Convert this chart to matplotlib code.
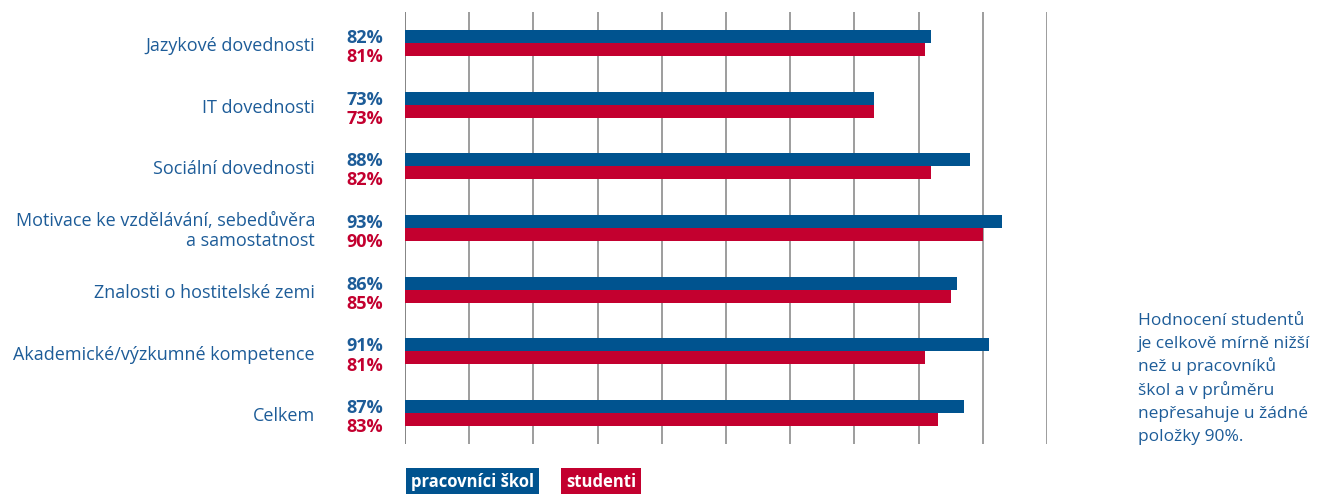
import matplotlib.pyplot as plt
import numpy as np

# chart data
categories = ["Jazykové dovednosti", "IT dovednosti", "Sociální dovednosti",
              "Motivace ke vzdělávání, sebedůvěra\na samostatnost",
              "Znalosti o hostitelské zemi", "Akademické/výzkumné kompetence", "Celkem"]
staff = [82, 73, 88, 93, 86, 91, 87]
students = [81, 73, 82, 90, 85, 81, 83]
legend_labels = ["pracovníci škol", "studenti"]
note_lines = ["Hodnocení studentů", "je celkově mírně nižší", "než u pracovníků",
              "škol a v průměru", "nepřesahuje u žádné", "položky 90%."]

blue = '#00538f'
red = '#c3002f'
text_blue = '#1d5c98'

plt.rcParams['font.family'] = ['Open Sans', 'DejaVu Sans']

fig = plt.figure(figsize=(13.18, 4.94), dpi=100, facecolor='white')
ax = fig.add_axes([405 / 1318, 1 - 444 / 494, 642 / 1318, 432 / 494])

y = np.arange(len(categories))
h = 0.21
ax.barh(y - h / 2, staff, height=h, color=blue, zorder=3)
ax.barh(y + h / 2, students, height=h, color=red, zorder=3)

ax.set_xlim(0, 100)
ax.set_ylim(len(categories) - 0.5, -0.5)
ax.set_xticks(np.arange(0, 101, 10))
ax.set_yticks([])
ax.tick_params(axis='x', length=0, labelbottom=False)
ax.grid(axis='x', color='#8c8c8c', linewidth=1.2, zorder=0)
for s in ax.spines.values():
    s.set_visible(False)
ax.axvline(0, color='#666666', linewidth=1.3, zorder=1)

# category labels and percentage values
for i, cat in enumerate(categories):
    ax.text(-14, i + 0.05, cat, ha='right', va='center', fontsize=13, color=text_blue,
            linespacing=1.2)
    ax.text(-3.4, i - 0.08, f"{staff[i]}%", ha='right', va='center', fontsize=13,
            fontweight='bold', color=text_blue)
    ax.text(-3.4, i + 0.23, f"{students[i]}%", ha='right', va='center', fontsize=13,
            fontweight='bold', color=red)

# legend boxes
fig.text(411 / 1318, 1 - 482 / 494, legend_labels[0], ha='left', va='center',
         fontsize=12, fontweight='bold', color='white',
         bbox=dict(boxstyle='square,pad=0.3', fc=blue, ec='none'))
fig.text(566 / 1318, 1 - 482 / 494, legend_labels[1], ha='left', va='center',
         fontsize=12, fontweight='bold', color='white',
         bbox=dict(boxstyle='square,pad=0.3', fc=red, ec='none'))

# side note, one line at a time so the spacing stays even
for k, line in enumerate(note_lines):
    fig.text(1138 / 1318, 1 - (325 + 23.2 * k) / 494, line, ha='left', va='baseline',
             fontsize=12.5, color=text_blue)

plt.savefig('out.png', facecolor='white')
